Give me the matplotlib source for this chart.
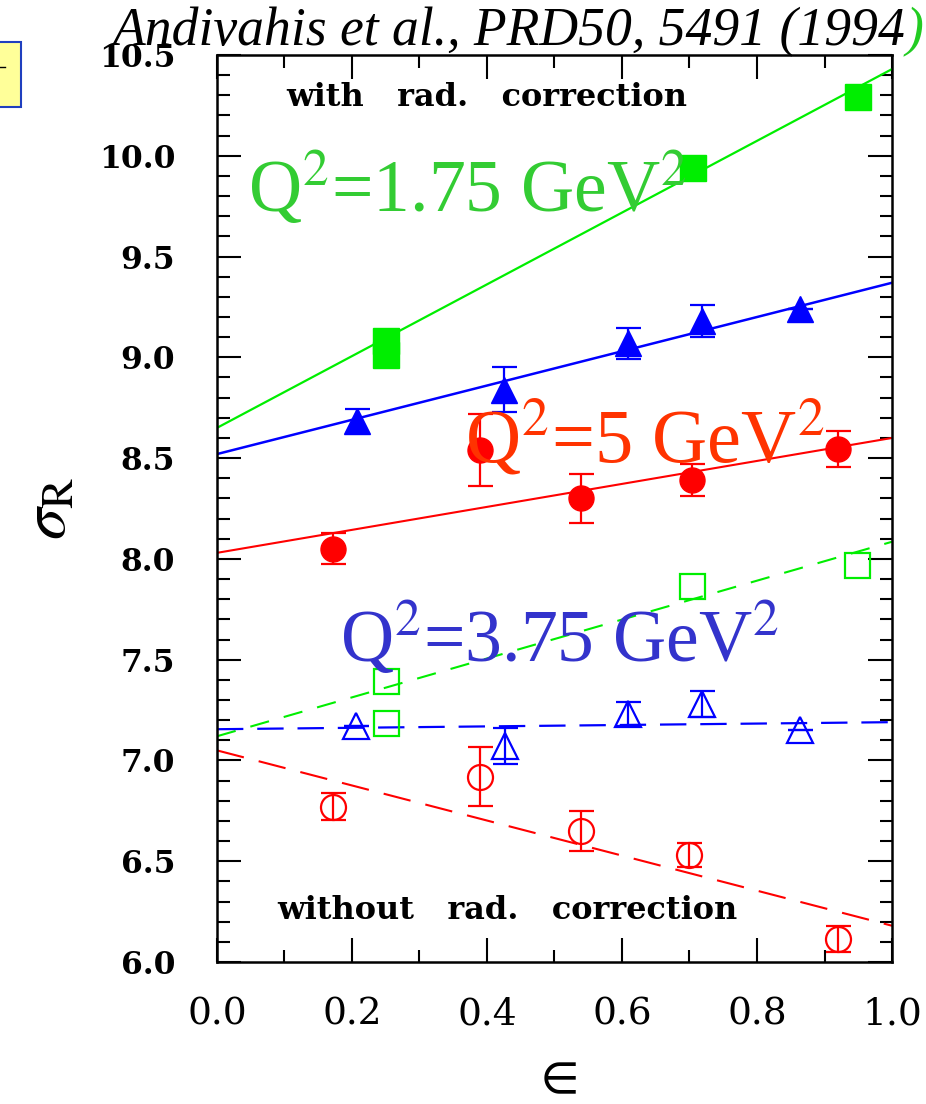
import matplotlib
matplotlib.use("Agg")
import matplotlib.pyplot as plt
from matplotlib.patches import Rectangle

plt.rcParams['font.family'] = ['Liberation Serif', 'DejaVu Serif']
plt.rcParams['mathtext.fontset'] = 'stix'
plt.rcParams['lines.scale_dashes'] = False

# with radiative correction (filled symbols, solid fits)
eps_q175 = [0.25, 0.25, 0.705, 0.95]
sig_q175 = [9.08, 9.01, 9.94, 10.29]

eps_q375 = [0.207, 0.425, 0.609, 0.718, 0.864]
sig_q375 = [8.685, 8.84, 9.07, 9.18, 9.24]
err_q375 = [0.06, 0.11, 0.077, 0.08, 0.0]

eps_q5 = [0.172, 0.39, 0.54, 0.704, 0.92]
sig_q5 = [8.05, 8.54, 8.30, 8.39, 8.545]
err_q5 = [0.077, 0.18, 0.12, 0.08, 0.09]

# without radiative correction (open symbols, dashed fits)
eps_q175_nr = [0.25, 0.25, 0.703, 0.948]
sig_q175_nr = [7.395, 7.186, 7.866, 7.97]

eps_q375_nr = [0.206, 0.427, 0.609, 0.718, 0.864]
sig_q375_nr = [7.17, 7.07, 7.23, 7.28, 7.15]
err_q375_nr = [0.0, 0.09, 0.06, 0.066, 0.0]

eps_q5_nr = [0.172, 0.39, 0.54, 0.70, 0.92]
sig_q5_nr = [6.77, 6.92, 6.65, 6.53, 6.115]
err_q5_nr = [0.067, 0.145, 0.097, 0.06, 0.064]

# straight-line fits, value at eps=0 and eps=1
fit_eps = [0.0, 1.0]
fit_q175 = [8.65, 10.43]
fit_q375 = [8.52, 9.37]
fit_q5 = [8.03, 8.60]
fit_q175_nr = [7.12, 8.085]
fit_q375_nr = [7.155, 7.19]
fit_q5_nr = [7.05, 6.18]

GREEN = '#00ee00'
BLUE = '#0000ff'
RED = '#ff0000'

fig = plt.figure(figsize=(9.26, 11.04), dpi=100)
ax = fig.add_axes([0.2343, 0.1286, 0.729, 0.8216])

# fit lines
ax.plot(fit_eps, fit_q175, color=GREEN, lw=1.6)
ax.plot(fit_eps, fit_q375, color=BLUE, lw=1.8)
ax.plot(fit_eps, fit_q5, color=RED, lw=1.5)
ax.plot(fit_eps, fit_q175_nr, color=GREEN, lw=1.5, dashes=(14, 11))
ax.plot(fit_eps, fit_q375_nr, color=BLUE, lw=1.6, dashes=(19, 10))
ax.plot(fit_eps, fit_q5_nr, color=RED, lw=1.5, dashes=(20, 11))

eb = dict(elinewidth=1.6, capsize=9, capthick=1.6, linestyle='none')

# filled symbols
ax.plot(eps_q175, sig_q175, 's', color=GREEN, ms=19, mec=GREEN)
ax.errorbar(eps_q375, sig_q375, yerr=err_q375, fmt='^', color=BLUE, ms=19, **eb)
ax.errorbar(eps_q5, sig_q5, yerr=err_q5, fmt='o', color=RED, ms=18, **eb)

# open symbols
ax.plot(eps_q175_nr, sig_q175_nr, 's', color=GREEN, ms=18, mfc='none', mew=1.6)
ax.errorbar(eps_q375_nr, sig_q375_nr, yerr=err_q375_nr, fmt='^', color=BLUE,
            ms=19, mfc='none', mew=1.6, **eb)
ax.errorbar(eps_q5_nr, sig_q5_nr, yerr=err_q5_nr, fmt='o', color=RED,
            ms=18, mfc='none', mew=1.6, **eb)

ax.set_xlim(0, 1)
ax.set_ylim(6.0, 10.5)
ax.set_xticks([0.0, 0.2, 0.4, 0.6, 0.8, 1.0])
ax.set_xticks([0.1, 0.3, 0.5, 0.7, 0.9], minor=True)
ax.set_yticks([6.0, 6.5, 7.0, 7.5, 8.0, 8.5, 9.0, 9.5, 10.0, 10.5])
ax.set_yticks([6.0 + 0.1 * i for i in range(46)], minor=True)
ax.set_xticklabels(['0.0', '0.2', '0.4', '0.6', '0.8', '1.0'],
                   family='DejaVu Serif', fontsize=27)
ax.set_yticklabels(['6.0', '6.5', '7.0', '7.5', '8.0', '8.5', '9.0', '9.5', '10.0', '10.5'],
                   family='DejaVu Serif', fontsize=22.5, fontweight='bold')
ax.tick_params(which='both', direction='in', top=True, right=True, width=1.5)
ax.tick_params(which='major', length=17)
ax.tick_params(which='minor', length=9)
ax.tick_params(axis='y', pad=30)
ax.tick_params(axis='x', pad=25)
for s in ax.spines.values():
    s.set_linewidth(1.8)

ax.set_xlabel(r'$\in$', fontsize=40, labelpad=14)
ax.set_ylabel(r'$\sigma_{\rm R}$', fontsize=46, labelpad=14)

ax.text(0.40, 10.29, 'with   rad.   correction', family='DejaVu Serif',
        fontweight='bold', fontsize=23, ha='center', va='center')
ax.text(0.43, 6.255, 'without   rad.   correction', family='DejaVu Serif',
        fontweight='bold', fontsize=23, ha='center', va='center')

ax.text(0.046, 9.72, r'Q$^2$=1.75 GeV$^2$', color='#33cc33', fontsize=53,
        ha='left', va='baseline')
ax.text(0.367, 8.48, r'Q$^2$=5 GeV$^2$', color='#ff3300', fontsize=55,
        ha='left', va='baseline')
ax.text(0.182, 7.484, r'Q$^2$=3.75 GeV$^2$', color='#3333cc', fontsize=53,
        ha='left', va='baseline')

t = fig.text(113 / 926, 1 - 45 / 1104, 'Andivahis et al., PRD50, 5491 (1994',
             fontsize=38.6, style='italic', ha='left', va='baseline')
ax.annotate(')', xy=(1, 0), xycoords=t, fontsize=38.6, style='italic',
            color='#22cc22', ha='left', va='bottom', annotation_clip=False)

# yellow note box cut at the left edge
fig.patches.append(Rectangle((-0.01, 1 - 107 / 1104), 0.0327, 65 / 1104,
                             transform=fig.transFigure, facecolor='#ffff99',
                             edgecolor='#1f3fbf', lw=1.5))
fig.lines.append(plt.Line2D([0, 5 / 926], [1 - 67 / 1104, 1 - 67 / 1104],
                            transform=fig.transFigure, color='black', lw=1))

fig.savefig('out.png', dpi=100)
